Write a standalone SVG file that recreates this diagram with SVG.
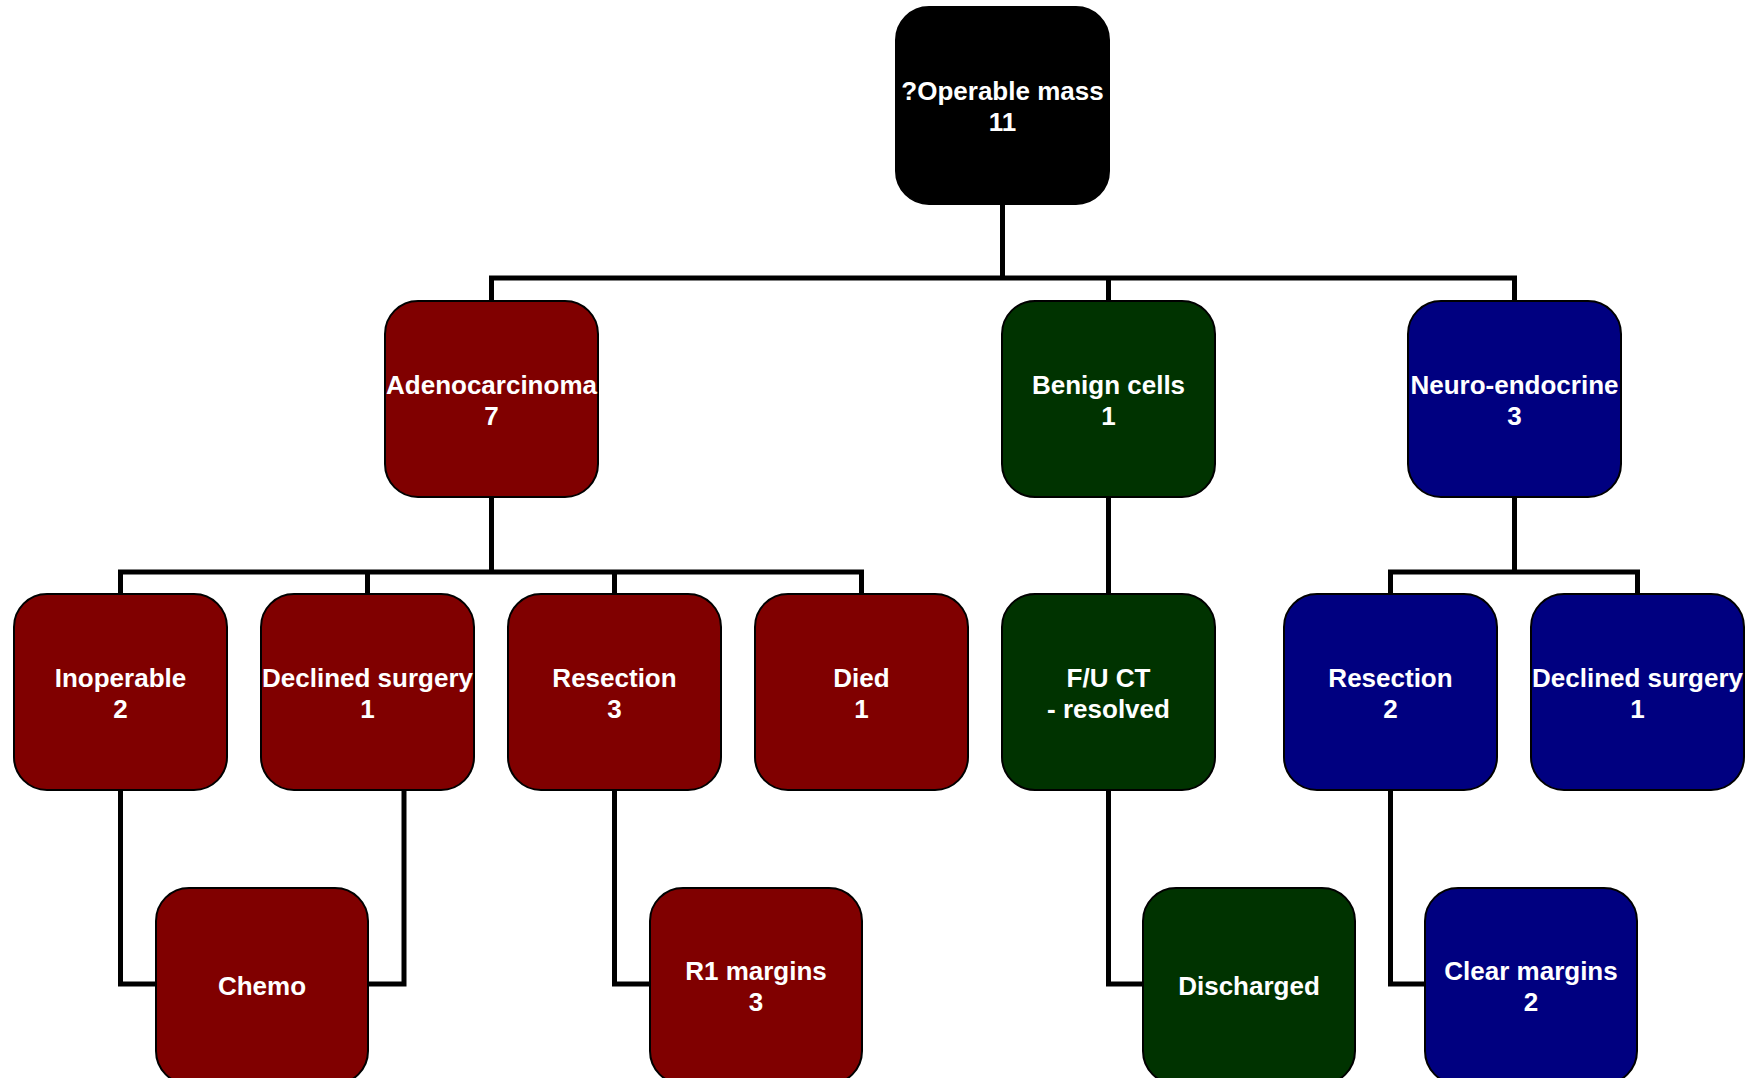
<svg xmlns="http://www.w3.org/2000/svg" width="1755" height="1078" viewBox="0 0 1755 1078">
<style>
.box{stroke:#000;stroke-width:2}
.red{fill:#800000}
.green{fill:#003300}
.blue{fill:#000080}
.black{fill:#000}
text{font-family:"Liberation Sans",Arial,sans-serif;font-weight:bold;font-size:26px;fill:#fff;text-anchor:middle}
#connectors path{fill:none;stroke:#000;stroke-width:5;stroke-linejoin:miter}
</style>
<rect width="1755" height="1078" fill="#fff"/>
<g id="connectors">
<path d="M1002.5,204 V278"/>
<path d="M491.5,301 V278 H1514.5 V301"/>
<path d="M1108.5,278 V301"/>
<path d="M491.5,497 V572"/>
<path d="M120.5,594 V572 H861.5 V594"/>
<path d="M367.5,572 V594"/>
<path d="M614.5,572 V594"/>
<path d="M120.5,790 V984 H156"/>
<path d="M404,787 V984 H368"/>
<path d="M614.5,790 V984 H650"/>
<path d="M1108.5,497 V594"/>
<path d="M1108.5,790 V984 H1143"/>
<path d="M1514.5,497 V572"/>
<path d="M1390.5,594 V572 H1637.5 V594"/>
<path d="M1390.5,790 V984 H1425"/>
</g>
<g id="root"><rect class="box black" x="896" y="7" width="213" height="197" rx="33"/><text x="1002.5" y="100">?Operable mass</text><text x="1002.5" y="131">11</text></g>
<g id="adeno"><rect class="box red" x="385" y="301" width="213" height="196" rx="33"/><text x="491.5" y="394">Adenocarcinoma</text><text x="491.5" y="425">7</text></g>
<g id="benign"><rect class="box green" x="1002" y="301" width="213" height="196" rx="33"/><text x="1108.5" y="394">Benign cells</text><text x="1108.5" y="425">1</text></g>
<g id="neuro"><rect class="box blue" x="1408" y="301" width="213" height="196" rx="33"/><text x="1514.5" y="394">Neuro-endocrine</text><text x="1514.5" y="425">3</text></g>
<g id="inoperable"><rect class="box red" x="14" y="594" width="213" height="196" rx="33"/><text x="120.5" y="687">Inoperable</text><text x="120.5" y="718">2</text></g>
<g id="declined1"><rect class="box red" x="261" y="594" width="213" height="196" rx="33"/><text x="367.5" y="687">Declined surgery</text><text x="367.5" y="718">1</text></g>
<g id="resection1"><rect class="box red" x="508" y="594" width="213" height="196" rx="33"/><text x="614.5" y="687">Resection</text><text x="614.5" y="718">3</text></g>
<g id="died"><rect class="box red" x="755" y="594" width="213" height="196" rx="33"/><text x="861.5" y="687">Died</text><text x="861.5" y="718">1</text></g>
<g id="fuct"><rect class="box green" x="1002" y="594" width="213" height="196" rx="33"/><text x="1108.5" y="687">F/U CT</text><text x="1108.5" y="718">- resolved</text></g>
<g id="resection2"><rect class="box blue" x="1284" y="594" width="213" height="196" rx="33"/><text x="1390.5" y="687">Resection</text><text x="1390.5" y="718">2</text></g>
<g id="declined2"><rect class="box blue" x="1531" y="594" width="213" height="196" rx="33"/><text x="1637.5" y="687">Declined surgery</text><text x="1637.5" y="718">1</text></g>
<g id="chemo"><rect class="box red" x="156" y="888" width="212" height="196" rx="33"/><text x="262" y="995">Chemo</text></g>
<g id="r1"><rect class="box red" x="650" y="888" width="212" height="196" rx="33"/><text x="756" y="980">R1 margins</text><text x="756" y="1011">3</text></g>
<g id="discharged"><rect class="box green" x="1143" y="888" width="212" height="196" rx="33"/><text x="1249" y="995">Discharged</text></g>
<g id="clear"><rect class="box blue" x="1425" y="888" width="212" height="196" rx="33"/><text x="1531" y="980">Clear margins</text><text x="1531" y="1011">2</text></g>
</svg>
